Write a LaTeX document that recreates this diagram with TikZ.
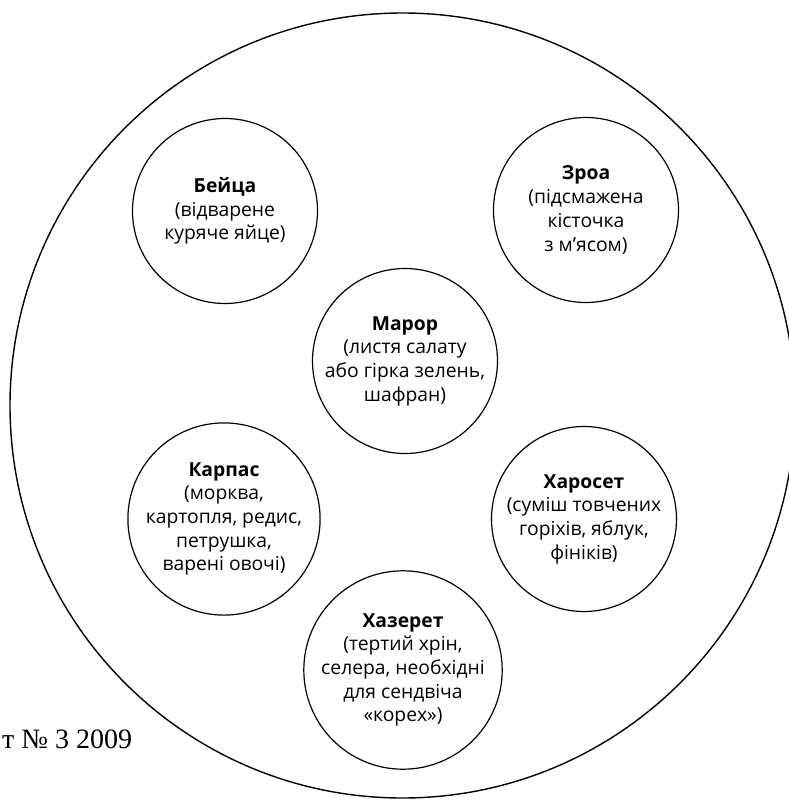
\documentclass[tikz,border=0pt]{standalone}
\usepackage{fontspec}
\setmainfont{Open Sans}
\newfontfamily\serifnote{Liberation Serif}
\begin{document}
\begin{tikzpicture}[x=1pt,y=-1pt,
  dish/.style={circle, draw=black, line width=1.2pt, minimum size=185pt, inner sep=0pt,
    align=center, font=\fontsize{19.3}{23.7}\selectfont},
  plate/.style={circle, draw=black, line width=1.4pt, minimum size=785pt, inner sep=0pt}]
\useasboundingbox (0,0) rectangle (789,801);
\clip (0,0) rectangle (789,801);
\fill[white] (0,0) rectangle (789,801);
\node[plate] (plate) at (402.5,405.5) {};
\node[dish] (beitsa) at (225,211) {\textbf{Бейца}\\(відварене\\куряче яйце)};
\node[dish] (zroa) at (586,210) {\textbf{Зроа}\\(підсмажена\\кісточка\\з м’ясом)};
\node[dish] (maror) at (405,361) {\textbf{Марор}\\(листя салату\\або гірка зелень,\\шафран)};
\node[dish] (karpas) at (224,519) {\textbf{Карпас}\\(морква,\\картопля, редис,\\петрушка,\\варені овочі)};
\node[dish] (kharoset) at (584,519) {\textbf{Харосет}\\(суміш товчених\\горіхів, яблук,\\фініків)};
\node[dish] (khazeret) at (403,670) {\textbf{Хазерет}\\(тертий хрін,\\селера, необхідні\\для сендвіча\\«корех»)};
\node[anchor=base west, inner sep=0pt, font=\serifnote\fontsize{28}{30}\selectfont] (note) at (2,748) {т № 3 2009};
\end{tikzpicture}
\end{document}
